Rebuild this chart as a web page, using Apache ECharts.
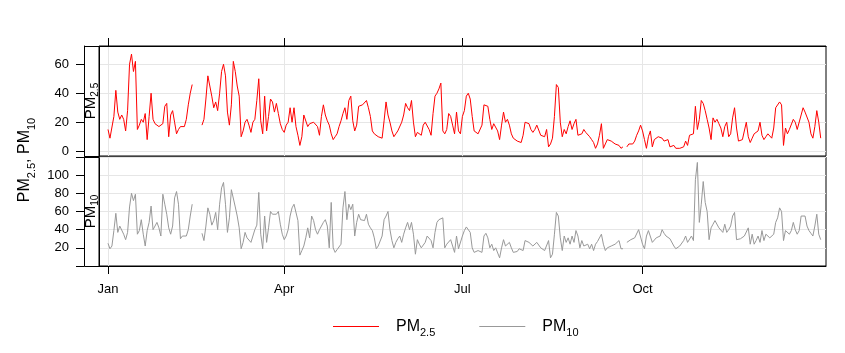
<!DOCTYPE html>
<html><head><meta charset="utf-8">
<script src="https://cdn.jsdelivr.net/npm/echarts@6/dist/echarts.min.js"></script>
<style>html,body{margin:0;padding:0;background:#fff}#c{width:845px;height:353px}</style>
</head><body><div id="c"></div>
<script>
// ---------------- data (daily means, one value per day from 1 Jan) ----------------
const startYear = 2003;
const pm25 = [
15, 9, 10, 24, 42, 27, 22, 25, 22, 14,
28, 60, 67, 55, 62, 15, 18, 22, 20, 26,
8, 24, 40, 22, 19, 18, 17, 18, 19, 31,
33, 10, 25, 28, 20, 12, 15, 17, 16, 17,
22, 32, 40, 46, null, null, null, null, 18, 22,
36, 52, 45, 38, 30, 34, 28, 40, 55, 60,
52, 27, 18, 32, 62, 55, 45, 38, 10, 14,
20, 22, 18, 13, 20, 22, 35, 50, 21, 12,
38, 14, 24, 36, 34, 27, 33, 26, 19, 15,
13, 18, 20, 30, 20, 30, 17, 11, 4, 10,
25, 26, 17, 19, 18, 20, 19, 17, 11, 24,
32, 25, 21, 18, 12, 8, 10, 12, 17, 21,
26, 30, 22, 35, 38, 21, 14, 18, 31, 30,
32, 33, 35, 30, 24, 14, 12, 11, 10, 10,
9, 21, 34, 25, 20, 14, 10, 12, 14, 15,
20, 25, 33, 30, 28, 35, 20, 10, 13, 12,
11, 18, 20, 21, 15, 11, 26, 38, 40, 43,
47, 14, 12, 15, 26, 24, 18, 12, 27, 14,
12, 24, 28, 38, 40, 36, 24, 14, 13, 12,
11, 18, 32, 33, 31, 22, 15, 19, 20, 14,
8, 18, 27, 20, 22, 18, 12, 9, 8, 7,
6, 6, 11, 20, 20, 19, 15, 13, 15, 18,
17, 11, 10, 10, 15, 3, 5, 9, 24, 46,
44, 20, 10, 15, 12, 17, 21, 15, 19, 22,
11, 10, 12, 15, 13, 12, 10, 8, 6, 2,
5, 11, 19, 2, 5, 8, 8, 7, 6, 5,
5, 4, 2, 3, null, 3, 5, 5, 5, 7,
11, 14, 18, 14, 8, 2, 10, 14, 3, 8,
9, 10, 9, 9, 7, 8, 8, 3, 4, 4,
2, 2, 2, 3, 3, 7, 4, 11, 10, 12,
31, 15, 22, 35, 33, 28, 22, 16, 8, 23,
20, 22, 19, 16, 10, 17, 20, 10, 12, 23,
30, 16, 7, 8, 8, 9, 20, 10, 6, 9,
12, 11, 14, 20, 11, 8, 10, 12, 11, 9,
16, 30, 31, 34, 32, 4, 16, 12, 15, 16,
22, 20, 15, 16, 25, 30, 27, 28, 20, 12,
9, 17, 28, 20, 9
];
const pm10 = [
25, 19, 22, 39, 58, 37, 44, 43, 35, 29,
37, 65, 80, 72, 79, 35, 39, 51, 35, 22,
39, 48, 66, 40, 44, 48, 42, 33, 79, 68,
57, 42, 35, 44, 75, 82, 68, 30, 33, 33,
33, 40, 55, 68, null, null, null, null, 36, 28,
44, 64, 57, 45, 50, 59, 40, 68, 86, 92,
68, 37, 53, 84, 82, 65, 55, 42, 19, 26,
37, 31, 33, 26, 33, 40, 45, 81, 35, 19,
55, 26, 42, 60, 57, 56, 57, 60, 46, 35,
29, 33, 40, 55, 64, 68, 70, 50, 12, 17,
22, 31, 42, 31, 55, 50, 40, 35, 40, 44,
48, 51, 44, 20, 70, 20, 15, 18, 19, 24,
64, 82, 51, 68, 62, 68, 33, 48, 57, 51,
52, 50, 57, 46, 42, 39, 31, 19, 22, 24,
33, 51, 55, 60, 40, 28, 20, 26, 30, 33,
26, 35, 42, 48, 40, 48, 35, 13, 29, 24,
20, 23, 26, 33, 35, 28, 20, 37, 48, 51,
53, 53, 20, 24, 26, 29, 22, 15, 33, 19,
17, 33, 39, 43, 42, 37, 20, 15, 16, 17,
16, 15, 33, 36, 31, 20, 24, 17, 20, 18,
9, 20, 29, 22, 24, 26, 20, 15, 15, 16,
19, 18, 17, 28, 27, 26, 24, 22, 24, 26,
28, 20, 18, 17, 17, 28, 9, 13, 35, 59,
55, 31, 17, 33, 26, 31, 24, 33, 26, 39,
33, 20, 28, 22, 23, 24, 19, 24, 17, 24,
27, 29, 35, 24, 17, 20, 21, 22, 23, 24,
26, 28, 19, 19, null, 26, 28, 29, 31, 31,
31, 40, 42, 24, 19, 33, 39, 40, 26, 28,
31, 32, 33, 40, 36, 33, 31, 30, 28, 22,
19, 20, 22, 24, 28, 33, 26, 28, 33, 28,
95, 114, 48, 68, 93, 70, 60, 29, 42, 46,
50, 51, 42, 40, 37, 46, 37, 40, 44, 55,
59, 29, 29, 30, 31, 33, 33, 42, 24, 35,
24, 28, 33, 26, 39, 28, 35, 37, 31, 31,
35, 48, 53, 64, 60, 28, 39, 40, 35, 39,
48, 40, 35, 39, 55, 53, 55, 44, 39, 36,
33, 44, 57, 35, 29
];
const seriesNames = ['PM2.5', 'PM10'];
const seriesColors = ['#ff0000', '#999999'];
const tickMonths = [0, 3, 6, 9];
const tickLabels = ['Jan', 'Apr', 'Jul', 'Oct'];
const yTicksTop = [0, 20, 40, 60];
const yTicksBottom = [0, 20, 40, 60, 80, 100, 120];
const yLabelsBottom = [20, 40, 60, 80, 100];

// ---------------- layout / style ----------------
const FONT = 'Liberation Sans, Arial, sans-serif';
const DAY = 86400000;
const dayOf = (m, d) => Math.round((Date.UTC(startYear, m, d) - Date.UTC(startYear, 0, 1)) / DAY);
const xMin = -4.6, xMax = 366.7;
const tickVals = tickMonths.map(m => dayOf(m, 1));
const toPairs = arr => arr.map((v, i) => [i, v === null ? '-' : v]);
const fmtX = v => { const k = tickVals.indexOf(Math.round(v)); return k >= 0 ? tickLabels[k] : ''; };

const GL = 99, GR = 19, T1 = 46, H1 = 110, T2 = 157, H2 = 109, STRIP = 15;
const gridLine = { color: '#e6e6e6', width: 1 };
const black = { color: '#000', width: 1 };

function xAx(idx, pos, showLabel) {
  return {
    type: 'value', gridIndex: idx, position: pos, min: xMin, max: xMax,
    axisLine: { show: true, onZero: false, lineStyle: black },
    axisTick: { show: true, customValues: tickVals, length: 8, lineStyle: black },
    axisLabel: { show: showLabel, customValues: tickVals, formatter: fmtX, color: '#000',
                 fontSize: 13, fontFamily: FONT, margin: 17 },
    splitLine: { show: true, lineStyle: gridLine },
    minorTick: { show: false }
  };
}
function yAx(idx, min, max, ticks, labels) {
  return {
    type: 'value', gridIndex: idx, min: min, max: max, offset: STRIP,
    axisLine: { show: true, onZero: false, lineStyle: black },
    axisTick: { show: true, customValues: ticks, length: 8, lineStyle: black },
    axisLabel: { customValues: labels, color: '#000', fontSize: 13, fontFamily: FONT, margin: 15 },
    splitLine: { show: true, lineStyle: gridLine }
  };
}
const subRich = (main, sub, lh) => ({
  n: { fontSize: main, lineHeight: lh, color: '#000', fontFamily: FONT },
  s: { fontSize: sub, lineHeight: sub + 3, verticalAlign: 'bottom', color: '#000', fontFamily: FONT },
  g: { width: 12 }
});
const labelRich = name => {
  const m = name.match(/^PM(.*)$/);
  return '{n|PM}{s|' + m[1] + '}';
};

const chart = echarts.init(document.getElementById('c'), null, { renderer: 'canvas' });
chart.setOption({
  animation: false,
  backgroundColor: '#fff',
  grid: [
    { left: GL, right: GR, top: T1, height: H1, show: true, borderColor: '#000', borderWidth: 1, backgroundColor: 'transparent', outerBoundsMode: 'none' },
    { left: GL, right: GR, top: T2, height: H2, show: true, borderColor: '#000', borderWidth: 1, backgroundColor: 'transparent', outerBoundsMode: 'none' }
  ],
  xAxis: [xAx(0, 'top', false), xAx(1, 'bottom', true)],
  yAxis: [yAx(0, -3.3, 72.6, yTicksTop, yTicksTop), yAx(1, 0, 120, yTicksBottom, yLabelsBottom)],
  legend: {
    left: 328, top: 313.5, itemWidth: 46, itemHeight: 1.2, itemGap: 44,
    data: seriesNames.map(n => ({ name: n, icon: 'rect' })),
    formatter: n => '{g|}' + labelRich(n),
    textStyle: { rich: subRich(16, 11, 24) }
  },
  series: [
    { type: 'line', name: seriesNames[0], xAxisIndex: 0, yAxisIndex: 0, data: toPairs(pm25),
      symbol: 'none', showSymbol: false, connectNulls: false,
      lineStyle: { color: seriesColors[0], width: 1 }, itemStyle: { color: seriesColors[0] } },
    { type: 'line', name: seriesNames[1], xAxisIndex: 1, yAxisIndex: 1, data: toPairs(pm10),
      symbol: 'none', showSymbol: false, connectNulls: false,
      lineStyle: { color: seriesColors[1], width: 1 }, itemStyle: { color: seriesColors[1] } }
  ],
  graphic: [
    { type: 'rect', z: 100, shape: { x: GL - STRIP + 0.5, y: T1 + 0.5, width: STRIP, height: H1 },
      style: { fill: 'none', stroke: '#000', lineWidth: 1 } },
    { type: 'rect', z: 100, shape: { x: GL - STRIP + 0.5, y: T2 + 0.5, width: STRIP, height: H2 },
      style: { fill: 'none', stroke: '#000', lineWidth: 1 } },
    { type: 'text', z: 100, x: GL - STRIP / 2 - 1, y: T1 + H1 / 2, rotation: Math.PI / 2,
      style: { text: labelRich(seriesNames[0]), rich: subRich(15, 10, 19), align: 'center', verticalAlign: 'middle' } },
    { type: 'text', z: 100, x: GL - STRIP / 2 - 1, y: T2 + H2 / 2, rotation: Math.PI / 2,
      style: { text: labelRich(seriesNames[1]), rich: subRich(15, 10, 19), align: 'center', verticalAlign: 'middle' } },
    { type: 'text', z: 100, x: 25, y: 160, rotation: Math.PI / 2,
      style: { text: labelRich(seriesNames[0]) + '{n|, }' + labelRich(seriesNames[1]), rich: subRich(16, 11, 24),
               align: 'center', verticalAlign: 'middle' } }
  ]
});
</script></body></html>
